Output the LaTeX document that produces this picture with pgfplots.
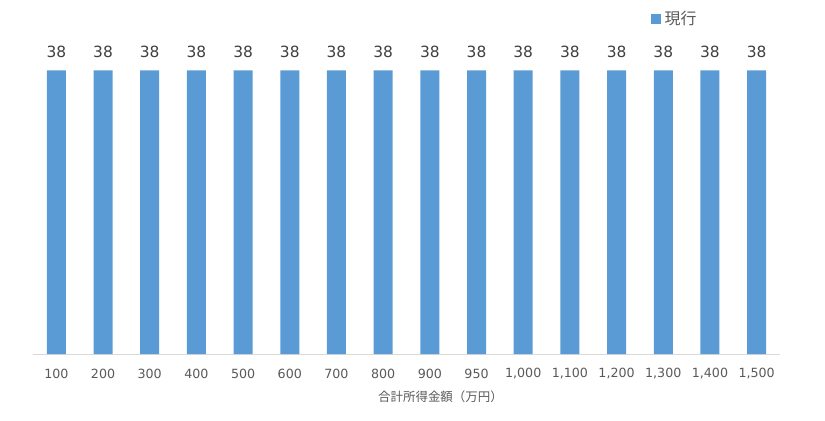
\documentclass[border=0pt]{standalone}
\usepackage{pgfplots}
\pgfplotsset{compat=1.18}
\usepackage{fontspec}
\setmainfont{DejaVu Sans}
\newfontfamily\cjk{Noto Sans CJK JP}
\definecolor{barblue}{HTML}{5B9BD5}
\definecolor{txt}{HTML}{595959}
\definecolor{lbl}{HTML}{404040}
\definecolor{axisgray}{HTML}{D9D9D9}
\begin{document}
\begin{tikzpicture}
\useasboundingbox (-33bp,-67bp) rectangle (792bp,354bp);
\begin{axis}[
  at={(0,0)}, anchor=south west, scale only axis,
  width=747bp, height=336bp,
  xmin=-0.5, xmax=15.5, ymin=0, ymax=45,
  axis y line=none,
  axis x line*=bottom,
  x axis line style={draw=axisgray, line width=1bp},
  xtick=data,
  xticklabels={100,200,300,400,500,600,700,800,900,950,{1,000},{1,100},{1,200},{1,300},{1,400},{1,500}},
  major tick length=0pt,
  /pgf/number format/assume math mode=true,
  xticklabel style={font=\fontsize{12.7}{14}\selectfont, text=txt, anchor=center, yshift=-20bp},
  ybar, bar width=19bp,
  nodes near coords,
  nodes near coords style={font=\fontsize{15.5}{17}\selectfont, text=lbl, anchor=center, yshift=18bp},
  xlabel={\cjk 合計所得金額（万円）},
  xlabel style={at={(axis description cs:0.5455,0)}, anchor=center, yshift=-43bp, font=\fontsize{12.5}{14}\selectfont, text=txt},
  legend style={at={(rel axis cs:0.859,0.997)}, anchor=center, draw=none, fill=none,
    font=\fontsize{16}{18}\selectfont, text=txt, inner sep=0pt},
  legend image code/.code={\fill[barblue] (0bp,-5bp) rectangle (10bp,5bp);},
  clip=false,
]
\addplot[fill=barblue, draw=none] coordinates {
(0,38) (1,38) (2,38) (3,38) (4,38) (5,38) (6,38) (7,38)
(8,38) (9,38) (10,38) (11,38) (12,38) (13,38) (14,38) (15,38)};
\addlegendentry{\hspace{2bp}\cjk 現行}
\end{axis}
\end{tikzpicture}
\end{document}
